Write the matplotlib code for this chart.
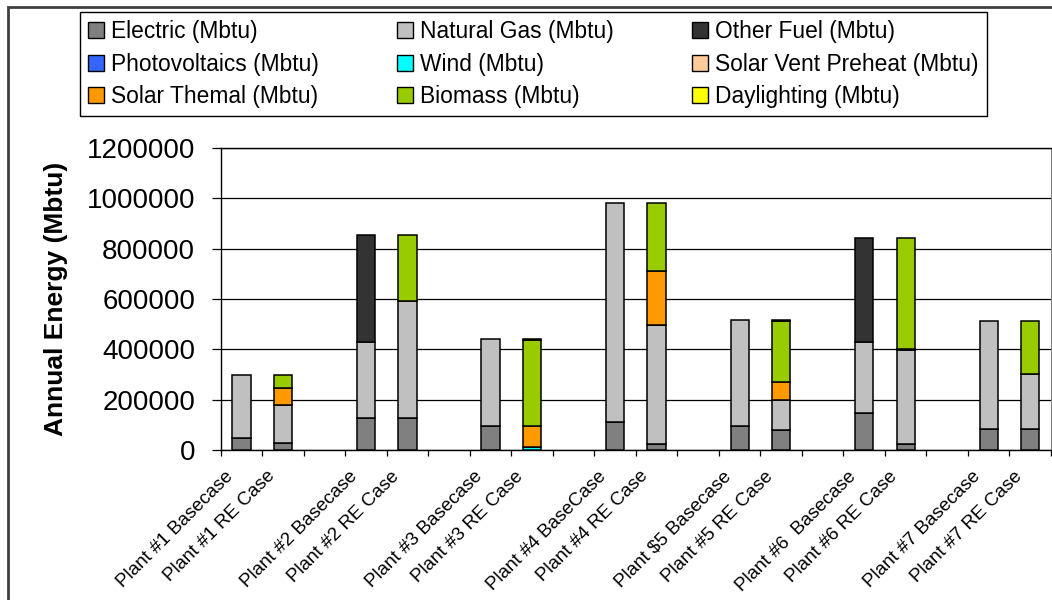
import numpy as np
import matplotlib
matplotlib.use('Agg')
import matplotlib.pyplot as plt
from matplotlib.patches import Patch, Rectangle
from matplotlib.ticker import FuncFormatter
import matplotlib.transforms as mtransforms

plt.rcParams['font.family'] = ['Liberation Sans', 'DejaVu Sans']

""" datos """
categorias = ['Plant #1 Basecase', 'Plant #1 RE Case', '',
              'Plant #2 Basecase', 'Plant #2 RE Case', '',
              'Plant #3 Basecase', 'Plant #3 RE Case', '',
              'Plant #4 BaseCase', 'Plant #4 RE Case', '',
              'Plant $5 Basecase', 'Plant #5 RE Case', '',
              'Plant #6  Basecase', 'Plant #6 RE Case', '',
              'Plant #7 Basecase', 'Plant #7 RE Case']

electric      = [48000, 26000, 0, 128000, 128000, 0, 96000, 0, 0, 110000, 25000, 0, 95000, 79000, 0, 148000, 22000, 0, 84000, 84000]
natural_gas   = [252000, 152000, 0, 300000, 466000, 0, 346000, 0, 0, 871000, 470000, 0, 420000, 119000, 0, 280000, 377000, 0, 427000, 217000]
other_fuel    = [0, 0, 0, 426000, 0, 0, 0, 0, 0, 0, 0, 0, 0, 0, 0, 415000, 0, 0, 0, 0]
photovoltaics = [0, 0, 0, 0, 0, 0, 0, 0, 0, 0, 3000, 0, 0, 0, 0, 0, 3000, 0, 0, 0]
wind          = [0, 0, 0, 0, 0, 0, 0, 10000, 0, 0, 0, 0, 0, 0, 0, 0, 0, 0, 0, 0]
solar_vent    = [0, 0, 0, 0, 0, 0, 0, 3000, 0, 0, 0, 0, 0, 0, 0, 0, 0, 0, 0, 0]
solar_thermal = [0, 70000, 0, 0, 0, 0, 0, 82000, 0, 0, 215000, 0, 0, 71000, 0, 0, 0, 0, 0, 0]
biomass       = [0, 52000, 0, 0, 260000, 0, 0, 343000, 0, 0, 268000, 0, 0, 242000, 0, 0, 441000, 0, 0, 210000]
daylighting   = [0, 0, 0, 0, 0, 0, 0, 4000, 0, 0, 0, 0, 0, 4000, 0, 0, 0, 0, 0, 0]

series = [
    ('Electric (Mbtu)', electric, '#808080'),
    ('Natural Gas (Mbtu)', natural_gas, '#C0C0C0'),
    ('Other Fuel (Mbtu)', other_fuel, '#333333'),
    ('Photovoltaics (Mbtu)', photovoltaics, '#3366FF'),
    ('Wind (Mbtu)', wind, '#00FFFF'),
    ('Solar Vent Preheat (Mbtu)', solar_vent, '#FFCC99'),
    ('Solar Themal (Mbtu)', solar_thermal, '#FF9900'),
    ('Biomass (Mbtu)', biomass, '#99CC00'),
    ('Daylighting (Mbtu)', daylighting, '#FFFF00'),
]

""" graficar """
fig = plt.figure(figsize=(10.52, 6), dpi=100)
ax = fig.add_axes([220.7/1052, 1-450/600, (1051-220.7)/1052, (450-148)/600])

x = np.arange(len(categorias))
base = np.zeros(len(categorias))
for nombre, valores, color in series:
    v = np.array(valores, dtype=float)
    hay = v > 0  # solo los segmentos con valor
    ax.bar(x[hay], v[hay], 0.44, bottom=base[hay], color=color,
           edgecolor='black', linewidth=1.1, zorder=3)
    base += v

ax.set_xlim(-0.5, len(categorias)-0.5)
ax.set_ylim(0, 1200000)
ax.set_yticks(np.arange(0, 1200001, 200000))
ax.yaxis.set_major_formatter(FuncFormatter(lambda v, p: f'{v:.0f}'))
ax.yaxis.grid(True, color='black', linewidth=0.9, zorder=0)
ax.tick_params(axis='y', direction='out', length=6.5, width=0.9, pad=12, labelsize=20)

ax.set_xticks(x)
ax.set_xticklabels(categorias, rotation=45, ha='right', va='center', rotation_mode='anchor', fontsize=13.6)
ax.set_xticks(np.arange(-0.5, len(categorias), 1), minor=True)
ax.tick_params(axis='x', which='major', length=0, pad=17)
ax.tick_params(axis='x', which='minor', direction='out', length=4, width=0.9)
desplaza = mtransforms.ScaledTranslation(-11/100, 0, fig.dpi_scale_trans)
for lbl in ax.get_xticklabels():
    lbl.set_transform(lbl.get_transform() + desplaza)

ax.set_ylabel('Annual Energy (Mbtu)', fontsize=19, fontweight='bold')
ax.yaxis.set_label_coords((68-220.7)/830, 0.5)

for lado in ['left', 'bottom', 'top']:
    ax.spines[lado].set_color('black')
    ax.spines[lado].set_linewidth(1)
ax.spines['right'].set_color('#808080')

# leyenda en tres columnas, llenado por columnas
orden = [0, 3, 6, 1, 4, 7, 2, 5, 8]
handles = [Patch(facecolor=series[i][2], edgecolor='black', linewidth=1) for i in orden]
labels = [series[i][0] for i in orden]
leg = fig.legend(handles, labels, ncol=3, loc='upper left',
                 bbox_to_anchor=(80/1052, 1-12/600), borderaxespad=0,
                 fontsize=16.4, handlelength=0.7, handleheight=0.7,
                 handletextpad=0.3, columnspacing=3.45, labelspacing=0.42,
                 borderpad=0.35, fancybox=False, framealpha=1)
leg.get_frame().set_edgecolor('black')
leg.get_frame().set_linewidth(1)

# borde del area del grafico
fig.patches.append(Rectangle((8/1052, -0.1), 1.2, 1-7/600+0.1, transform=fig.transFigure,
                             fill=False, edgecolor='#404040', linewidth=2))

plt.savefig('out.png', dpi=100)
